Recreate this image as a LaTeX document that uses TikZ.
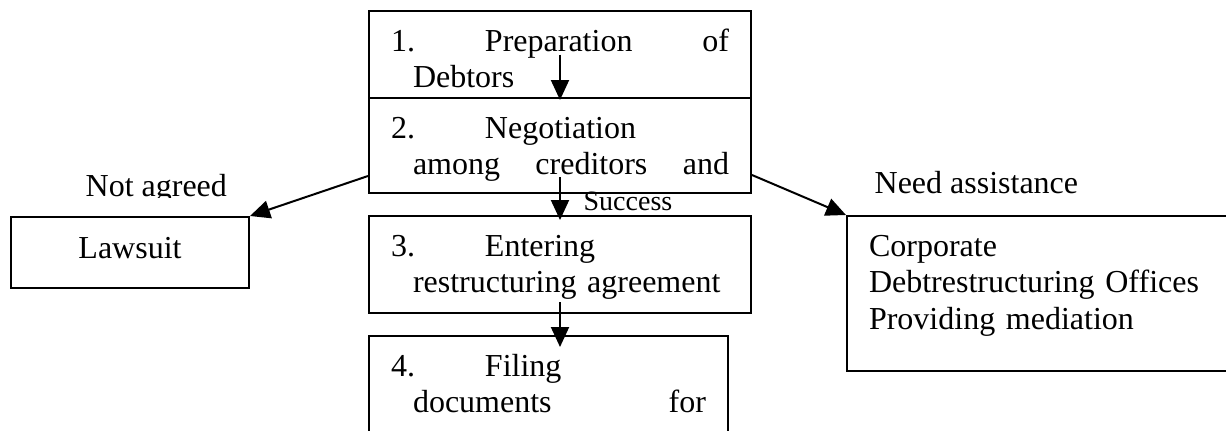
\documentclass[tikz,border=0pt]{standalone}
\usepackage{fontspec}
\setmainfont{Liberation Serif}
\usetikzlibrary{arrows.meta,calc,positioning}
\tikzstyle{every node}=[font=\fontsize{16}{18.4}\selectfont]
\tikzstyle{stagebox}=[draw, rectangle, anchor=north west, inner xsep=11pt,
  inner ysep=0pt, align=left, text height=20pt]
\tikzstyle{arr}=[-{Triangle[length=10pt,width=9pt]}]
\newcommand{\numtab}[1]{\makebox[47pt][l]{#1}}

\begin{document}
\begin{tikzpicture}[x=1pt,y=1pt,line width=1pt]
  \useasboundingbox (0,0) rectangle (613,215);
  \clip (0,0) rectangle (613,215);

  % stages
  \node[stagebox, text width=169pt, text depth=23.5pt] (b1) at (184,210)
    {\numtab{1.}Preparation\hfill of\\\hspace*{11pt}Debtors};
  \node[stagebox, text width=169pt, text depth=27.5pt] (b2) at (184,166.5)
    {\numtab{2.}Negotiation\\\hspace*{11pt}among\hfill creditors\hfill and};
  \node[stagebox, text width=169pt, text depth=28.5pt] (b3) at (184,107.5)
    {\numtab{3.}Entering\\\hspace*{11pt}restructuring agreement};
  \node[stagebox, text width=157.5pt, text depth=40pt] (b4) at (184,47.5)
    {\numtab{4.}Filing\\\hspace*{11pt}documents\hfill for};

  % side boxes
  \node[stagebox, align=center, text width=97pt, text height=20.5pt,
    text depth=15pt] (law) at (5,107) {Lawsuit};
  \node[stagebox, text width=198pt, text depth=57.5pt] (assist) at (423,107.5)
    {Corporate\\Debtrestructuring Offices\\Providing mediation};

  % labels
  \begin{scope}
    \clip (0,116.3) rectangle (200,140);
    \node[anchor=base west] (notagreed) at (39,117) {Not agreed};
  \end{scope}
  \node[anchor=base west] (needhelp) at (433.5,118.5) {Need assistance};
  \node[anchor=base west, font=\fontsize{14}{16}\selectfont] (success)
    at (288,110) {Success};

  % arrows
  \draw[arr] (b1.center) -- ([yshift=-1.5pt]b2.north);
  \draw[arr] ([yshift=8.5pt]b2.south) -- ([yshift=-2.5pt]b3.north);
  \draw[arr] ([yshift=6pt]b3.south) -- ($(b4.north -| b3.south)+(0,-6)$);
  \draw[arr] ([yshift=9pt]b2.south west) -- (law.north east);
  \draw[arr] ([yshift=9.5pt]b2.south east) -- (assist.north west);
\end{tikzpicture}
\end{document}
